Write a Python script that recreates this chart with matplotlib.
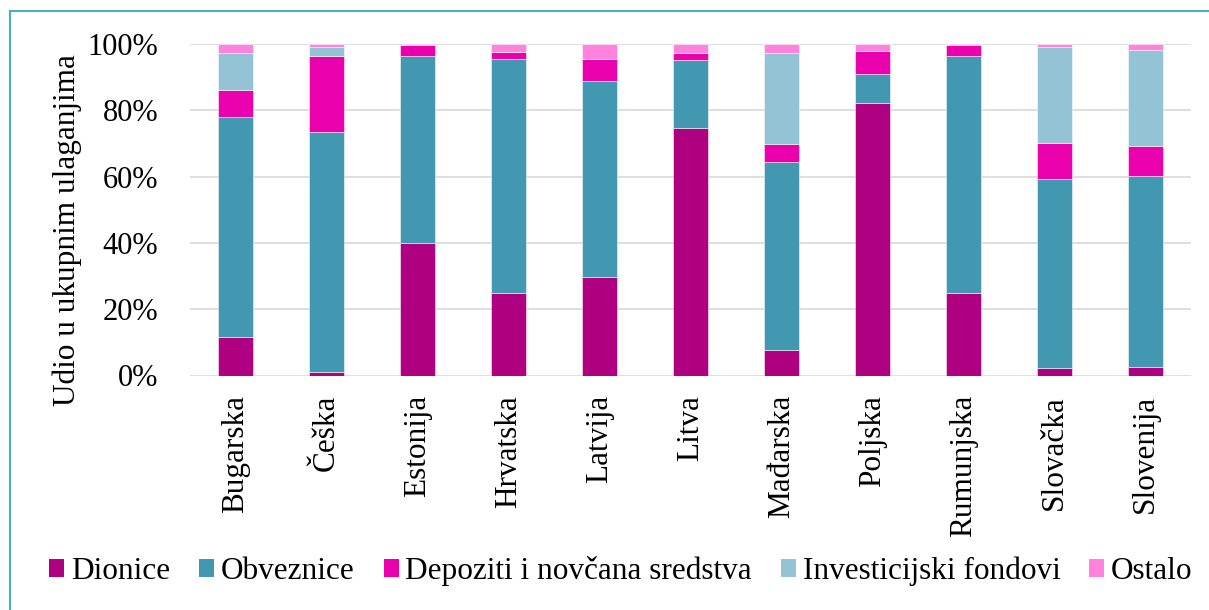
import matplotlib
matplotlib.use("Agg")
import matplotlib.pyplot as plt
from matplotlib.lines import Line2D
from matplotlib.patches import Patch
import numpy as np

plt.rcParams['font.family'] = ['Liberation Serif', 'DejaVu Serif']

countries = ["Bugarska", "Češka", "Estonija", "Hrvatska", "Latvija", "Litva",
             "Mađarska", "Poljska", "Rumunjska", "Slovačka", "Slovenija"]
series_names = ["Dionice", "Obveznice", "Depoziti i novčana sredstva",
                "Investicijski fondovi", "Ostalo"]
dionice =     [11.5,  1.0, 39.9, 24.8, 29.7, 74.8,  7.7, 82.3, 25.0,  2.4,  2.7]
obveznice =   [66.5, 72.4, 56.5, 70.7, 59.1, 20.3, 56.6,  8.6, 71.4, 56.8, 57.6]
depoziti =    [ 8.1, 23.0,  3.4,  2.1,  6.7,  2.3,  5.6,  7.0,  3.4, 10.8,  9.0]
investicijski=[11.2,  2.6,  0.0,  0.0,  0.0,  0.0, 27.3,  0.0,  0.0, 29.0, 28.9]
ostalo =      [ 2.7,  1.0,  0.2,  2.4,  4.5,  2.6,  2.8,  2.1,  0.2,  1.0,  1.8]
yticks = [0, 20, 40, 60, 80, 100]
colors = ["#AE0080", "#4298B0", "#EB00AE", "#93C3D5", "#FF82DC"]

W, H = 1209, 610
fig = plt.figure(figsize=(W/100, H/100), dpi=100)
ax = fig.add_axes([190/W, 1-375.5/H, (1191-190)/W, (375.5-44)/H])

x = np.arange(len(countries))
data = [dionice, obveznice, depoziti, investicijski, ostalo]
bottom = np.zeros(len(countries))
for vals, name, c in zip(data, series_names, colors):
    v = np.array(vals) / 100.0
    ax.bar(x, v, width=0.39, bottom=bottom, color=c, label=name,
           edgecolor=(1, 1, 1, 0.6), linewidth=0.6, zorder=3)
    bottom += v

ax.set_xlim(-0.5, len(countries) - 0.5)
ax.set_ylim(0, 1)
ax.set_yticks([t/100 for t in yticks])
ax.set_yticklabels([f"{t}%" for t in yticks], fontsize=22)
ax.set_xticks(x)
ax.set_xticklabels(countries, rotation=90, fontsize=22.5, va='top', ha='center')
ax.tick_params(axis='y', length=0, pad=23)
ax.tick_params(axis='x', length=0, pad=14)
ax.grid(axis='y', color='#D9D9D9', linewidth=1.2, zorder=0)
for s in ax.spines.values():
    s.set_visible(False)

fig.text(67/W, 1-230/H, "Udio u ukupnim ulaganjima", rotation=90,
         fontsize=22.5, ha='center', va='center')

handles = [Patch(facecolor=c, edgecolor='none') for c in colors]
fig.legend(handles, series_names, loc='center', ncol=5, frameon=False,
           bbox_to_anchor=(621/W, 1-571/H), fontsize=22.5,
           handlelength=0.48, handleheight=0.48, handletextpad=0.22,
           columnspacing=0.92, borderaxespad=0)

col = "#4BACC6"
fig.add_artist(Line2D([10/W, 10/W], [0, 1-11/H], color=col, linewidth=1.5,
                      transform=fig.transFigure))
fig.add_artist(Line2D([10/W, 1], [1-11/H, 1-11/H], color=col, linewidth=1.5,
                      transform=fig.transFigure))

fig.savefig("out.png", dpi=100)
